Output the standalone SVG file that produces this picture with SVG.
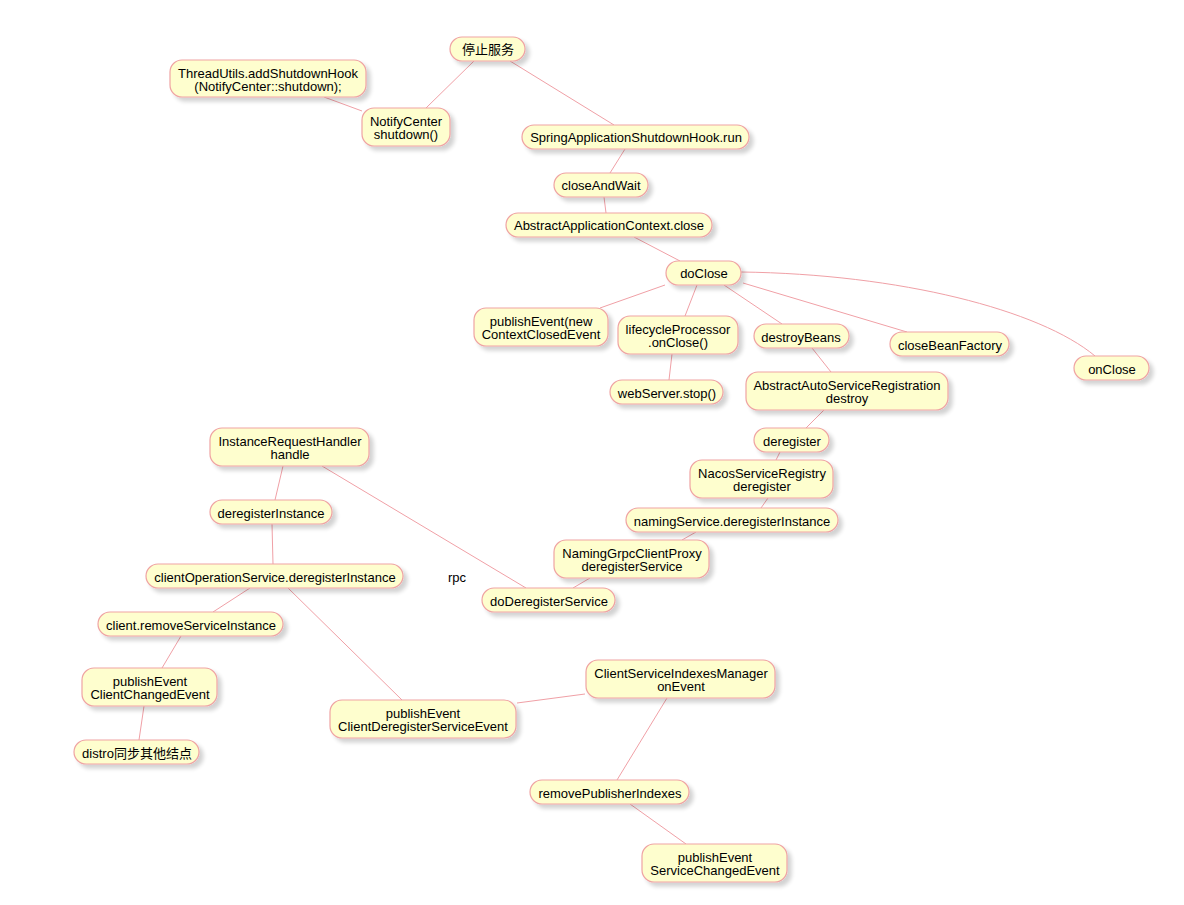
<svg xmlns="http://www.w3.org/2000/svg" width="1184" height="905" viewBox="0 0 1184 905">
<defs>
<filter id="sh" x="-10%" y="-20%" width="130%" height="160%">
<feGaussianBlur in="SourceAlpha" stdDeviation="2"/>
<feOffset dx="4" dy="4" result="b"/>
<feComponentTransfer><feFuncA type="linear" slope="0.18"/></feComponentTransfer>
<feMerge><feMergeNode/><feMergeNode in="SourceGraphic"/></feMerge>
</filter>
</defs>
<style>
rect.n{fill:#FEFECE;stroke:#EFA3A3;stroke-width:1.2;filter:url(#sh)}
text{font-family:"Liberation Sans","Noto Sans CJK SC",Arial,sans-serif;font-size:13px;fill:#000;text-anchor:middle}
#edges line,#edges path{stroke:#F0A0A6;stroke-width:1;fill:none}
</style>
<rect width="1184" height="905" fill="#fff"/>
<g id="edges">
<line x1="474" y1="61" x2="426" y2="108"/>
<line x1="510" y1="61" x2="614" y2="125"/>
<line x1="324" y1="97" x2="362" y2="111"/>
<line x1="625" y1="149" x2="610" y2="173"/>
<line x1="604" y1="197" x2="606" y2="213"/>
<line x1="634" y1="237" x2="680" y2="261"/>
<line x1="665" y1="285" x2="600" y2="308"/>
<line x1="697" y1="285" x2="685" y2="316"/>
<line x1="724" y1="285" x2="782" y2="324"/>
<line x1="743" y1="283" x2="907" y2="332"/>
<path d="M741,272 C900,274 1040,310 1095,356"/>
<line x1="672" y1="354" x2="669" y2="380"/>
<line x1="812" y1="348" x2="831" y2="372"/>
<line x1="824" y1="410" x2="806" y2="428"/>
<line x1="780" y1="452" x2="776" y2="460"/>
<line x1="768" y1="498" x2="761" y2="508"/>
<line x1="696" y1="532" x2="682" y2="540"/>
<line x1="590" y1="578" x2="573" y2="588"/>
<line x1="322" y1="466" x2="526" y2="588"/>
<line x1="283" y1="466" x2="275" y2="500"/>
<line x1="272" y1="524" x2="273" y2="564"/>
<line x1="250" y1="588" x2="213" y2="612"/>
<line x1="288" y1="588" x2="402" y2="700"/>
<line x1="181" y1="636" x2="162" y2="668"/>
<line x1="144" y1="706" x2="139" y2="740"/>
<line x1="517" y1="703" x2="585" y2="694"/>
<line x1="667" y1="698" x2="617" y2="780"/>
<line x1="630" y1="804" x2="686" y2="844"/>
</g>
<g id="n1"><rect class="n" x="450" y="37" width="75" height="24" rx="12"/><text x="488" y="54">停止服务</text></g>
<g id="n2"><rect class="n" x="170" y="60" width="196" height="37" rx="12"/><text x="268" y="78">ThreadUtils.addShutdownHook</text><text x="268" y="91">(NotifyCenter::shutdown);</text></g>
<g id="n3"><rect class="n" x="362" y="108" width="88" height="38" rx="12"/><text x="406" y="126">NotifyCenter</text><text x="406" y="139">shutdown()</text></g>
<g id="n4"><rect class="n" x="522" y="125" width="227" height="24" rx="12"/><text x="636" y="142">SpringApplicationShutdownHook.run</text></g>
<g id="n5"><rect class="n" x="554" y="173" width="94" height="24" rx="12"/><text x="601" y="190">closeAndWait</text></g>
<g id="n6"><rect class="n" x="506" y="213" width="206" height="24" rx="12"/><text x="609" y="230">AbstractApplicationContext.close</text></g>
<g id="n7"><rect class="n" x="666" y="261" width="75" height="24" rx="12"/><text x="704" y="278">doClose</text></g>
<g id="n8"><rect class="n" x="474" y="308" width="134" height="38" rx="12"/><text x="541" y="326">publishEvent(new</text><text x="541" y="339">ContextClosedEvent</text></g>
<g id="n9"><rect class="n" x="618" y="316" width="120" height="38" rx="12"/><text x="678" y="334">lifecycleProcessor</text><text x="678" y="347">.onClose()</text></g>
<g id="n10"><rect class="n" x="754" y="324" width="95" height="24" rx="12"/><text x="801" y="342">destroyBeans</text></g>
<g id="n11"><rect class="n" x="890" y="332" width="119" height="24" rx="12"/><text x="950" y="350">closeBeanFactory</text></g>
<g id="n12"><rect class="n" x="1074" y="356" width="75" height="24" rx="12"/><text x="1112" y="374">onClose</text></g>
<g id="n13"><rect class="n" x="610" y="380" width="113" height="24" rx="12"/><text x="667" y="398">webServer.stop()</text></g>
<g id="n14"><rect class="n" x="746" y="372" width="202" height="38" rx="12"/><text x="847" y="390">AbstractAutoServiceRegistration</text><text x="847" y="403">destroy</text></g>
<g id="n15"><rect class="n" x="754" y="428" width="75" height="24" rx="12"/><text x="792" y="446">deregister</text></g>
<g id="n16"><rect class="n" x="690" y="460" width="143" height="38" rx="12"/><text x="762" y="478">NacosServiceRegistry</text><text x="762" y="491">deregister</text></g>
<g id="n17"><rect class="n" x="626" y="508" width="212" height="24" rx="12"/><text x="732" y="526">namingService.deregisterInstance</text></g>
<g id="n18"><rect class="n" x="554" y="540" width="155" height="38" rx="12"/><text x="632" y="558">NamingGrpcClientProxy</text><text x="632" y="571">deregisterService</text></g>
<g id="n19"><rect class="n" x="482" y="588" width="133" height="24" rx="12"/><text x="549" y="606">doDeregisterService</text></g>
<g id="n20"><rect class="n" x="210" y="428" width="159" height="38" rx="12"/><text x="290" y="446">InstanceRequestHandler</text><text x="290" y="459">handle</text></g>
<g id="n21"><rect class="n" x="210" y="500" width="122" height="24" rx="12"/><text x="271" y="518">deregisterInstance</text></g>
<g id="n22"><rect class="n" x="146" y="564" width="257" height="24" rx="12"/><text x="275" y="582">clientOperationService.deregisterInstance</text></g>
<g id="n23"><rect class="n" x="98" y="612" width="185" height="24" rx="12"/><text x="191" y="630">client.removeServiceInstance</text></g>
<g id="n24"><rect class="n" x="82" y="668" width="135" height="38" rx="12"/><text x="150" y="686">publishEvent</text><text x="150" y="699">ClientChangedEvent</text></g>
<g id="n25"><rect class="n" x="74" y="740" width="125" height="24" rx="12"/><text x="137" y="758">distro同步其他结点</text></g>
<g id="n26"><rect class="n" x="330" y="700" width="186" height="38" rx="12"/><text x="423" y="718">publishEvent</text><text x="423" y="731">ClientDeregisterServiceEvent</text></g>
<g id="n27"><rect class="n" x="586" y="660" width="189" height="38" rx="12"/><text x="681" y="678">ClientServiceIndexesManager</text><text x="681" y="691">onEvent</text></g>
<g id="n28"><rect class="n" x="530" y="780" width="159" height="24" rx="12"/><text x="610" y="798">removePublisherIndexes</text></g>
<g id="n29"><rect class="n" x="642" y="844" width="145" height="38" rx="12"/><text x="715" y="862">publishEvent</text><text x="715" y="875">ServiceChangedEvent</text></g>
<text x="457" y="582">rpc</text>
</svg>
